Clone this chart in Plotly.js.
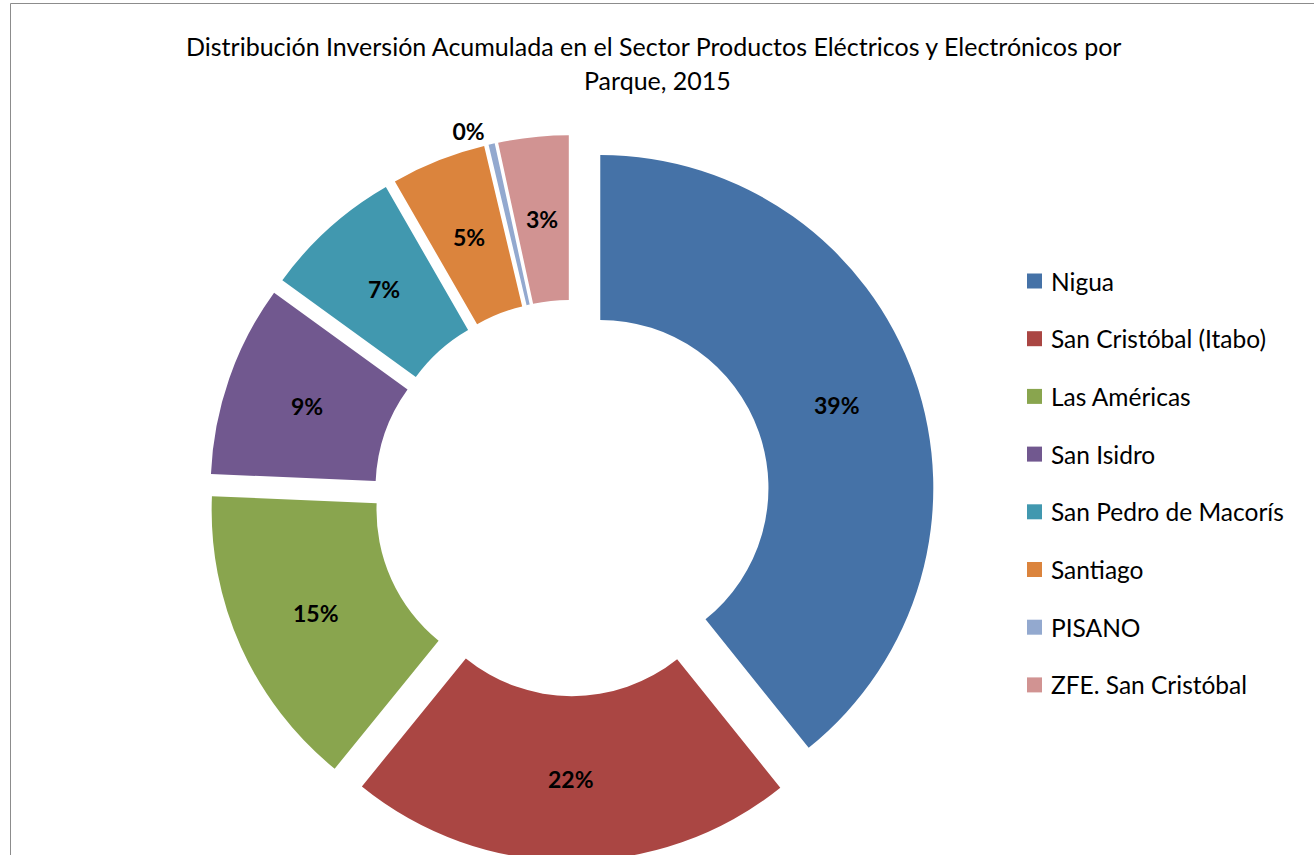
<!DOCTYPE html>
<html><head><meta charset="utf-8">
<script src="https://cdn.plot.ly/plotly-3.0.1.min.js"></script>
<style>html,body{margin:0;padding:0;overflow:hidden;background:#fff}#chart{width:1314px;height:880px}</style>
</head><body><div id="chart"></div>
<script>
const parques = ['Nigua', 'San Cristóbal (Itabo)', 'Las Américas', 'San Isidro', 'San Pedro de Macorís', 'Santiago', 'PISANO', 'ZFE. San Cristóbal'];
const inversionPct = [39.2, 21.6, 14.8, 9.3, 6.7, 4.6, 0.3, 3.4];
const colores = ['#4572A7', '#AA4643', '#89A54E', '#71588F', '#4198AF', '#DB843D', '#93A9CF', '#D19392'];
const posicionTexto = ['none', 'none', 'none', 'none', 'none', 'none', 'outside', 'none'];
const tituloL1 = 'Distribución Inversión Acumulada en el Sector Productos Eléctricos y Electrónicos por';
const tituloL2 = 'Parque, 2015';

const W = 1314, H = 880;
const FONT = 'Lato, "Open Sans", sans-serif';
const px = x => x / W;
const py = y => (H - y) / H;

// pie geometry (pixels) from its domain
const DOM = {x0: 209, x1: 935, y0: 135, y1: 861};
const PULL = 0.09, HOLE = 0.505;
const cx = (DOM.x0 + DOM.x1) / 2, cy = (DOM.y0 + DOM.y1) / 2;
const R = Math.min(DOM.x1 - DOM.x0, DOM.y1 - DOM.y0) / 2 / (1 + PULL);
const rMid = R * (1 + HOLE) / 2;

const annotations = [
  {text: tituloL1, x: px(653), y: py(46), xref: 'paper', yref: 'paper', showarrow: false, xanchor: 'center', yanchor: 'middle', font: {family: FONT, size: 25, color: '#000'}},
  {text: tituloL2, x: px(657), y: py(80), xref: 'paper', yref: 'paper', showarrow: false, xanchor: 'center', yanchor: 'middle', font: {family: FONT, size: 25, color: '#000'}}
];
const shapes = [
  {type: 'rect', xref: 'paper', yref: 'paper', x0: px(10.5), x1: 1.05, y0: -0.05, y1: py(3.5), line: {color: '#8c8c8c', width: 1}}
];
parques.forEach((p, i) => {
  const yc = 281 + i * 57.7;
  shapes.push({type: 'rect', xref: 'paper', yref: 'paper', x0: px(1027), x1: px(1042), y0: py(yc + 7.5), y1: py(yc - 7.5), fillcolor: colores[i], line: {width: 0}});
  annotations.push({text: p, x: px(1049), y: py(yc), xref: 'paper', yref: 'paper', showarrow: false, xanchor: 'left', yanchor: 'middle', font: {family: FONT, size: 24.5, color: '#000'}});
});

// inside percentage labels at the middle of each ring segment (data-driven)
const total = inversionPct.reduce((a, b) => a + b, 0);
let acum = 0;
inversionPct.forEach((v, i) => {
  const mid = (acum + v / 2) / total * 2 * Math.PI;
  acum += v;
  if (posicionTexto[i] !== 'none') return;
  const s = Math.sin(mid), c = Math.cos(mid);
  const xx = cx + s * (rMid + PULL * R);
  const yy = cy - c * (rMid + PULL * R);
  annotations.push({text: '<b>' + Math.round(v / total * 100) + '%</b>', x: px(xx), y: py(yy), xref: 'paper', yref: 'paper', showarrow: false, xanchor: 'center', yanchor: 'middle', font: {family: FONT, size: 23, color: '#000'}});
});

const trace = {
  type: 'pie',
  labels: parques,
  values: inversionPct,
  marker: {colors: colores, line: {width: 0}},
  hole: HOLE,
  pull: parques.map(() => PULL),
  sort: false,
  direction: 'clockwise',
  rotation: 0,
  texttemplate: '<b>%{percent:.0%}</b>',
  textposition: posicionTexto,
  outsidetextfont: {family: FONT, size: 23, color: '#000'},
  domain: {x: [px(DOM.x0), px(DOM.x1)], y: [py(DOM.y1), py(DOM.y0)]},
  hoverinfo: 'label+percent',
  showlegend: false
};

Plotly.newPlot('chart', [trace], {
  width: W, height: H,
  margin: {l: 0, r: 0, t: 0, b: 0},
  paper_bgcolor: '#fff',
  showlegend: false,
  annotations: annotations,
  shapes: shapes
}, {displayModeBar: false});
</script>
</body></html>
